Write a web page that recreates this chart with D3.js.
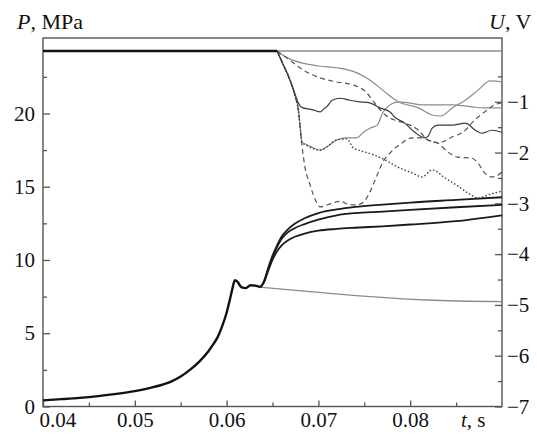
<!DOCTYPE html>
<html><head><meta charset="utf-8">
<script src="https://cdn.jsdelivr.net/npm/d3@7"></script>
<style>body{margin:0;background:#fff}</style>
</head><body>
<svg id="c" width="537" height="434"></svg>
<script>
// ---- axis ticks ----
const tMajor = [0.04, 0.05, 0.06, 0.07, 0.08];
const tMajorLabels = ["0.04", "0.05", "0.06", "0.07", "0.08"];
const tMinor = [0.045, 0.055, 0.065, 0.075, 0.085];
const pMajor = [0, 5, 10, 15, 20];
const pMinor = [2.5, 7.5, 12.5, 17.5, 22.5];
const uMajor = [-1, -2, -3, -4, -5, -6, -7];
const uMinor = [-0.5, -1.5, -2.5, -3.5, -4.5, -5.5, -6.5];

// ---- pressure P, MPa ----
const pMain = [[0.040,0.42],[0.042,0.50],[0.044,0.59],[0.046,0.71],[0.048,0.86],[0.050,1.05],[0.052,1.32],[0.054,1.72],[0.055,2.05],[0.056,2.50],[0.057,3.05],[0.058,3.75],[0.0585,4.20],[0.059,4.70],[0.0595,5.45],[0.060,6.40],[0.0603,7.15],[0.0606,7.95],[0.0609,8.62],[0.0612,8.50],[0.0616,8.15],[0.0621,8.08],[0.0626,8.28],[0.0631,8.25],[0.0637,8.14]];
const pFlat = [[0.0637,8.14],[0.0691,7.84],[0.0745,7.55],[0.0818,7.27],[0.0900,7.16]];
const pUpper = [[0.0637,8.14],[0.0641,8.6],[0.0645,9.4],[0.0650,10.3],[0.0655,11.0],[0.0660,11.6],[0.0667,12.1],[0.0675,12.5],[0.0685,12.85],[0.0700,13.2],[0.0720,13.45],[0.0740,13.62],[0.0770,13.78],[0.0800,13.92],[0.0850,14.1],[0.0900,14.28]];
const pMiddle = [[0.0637,8.14],[0.0641,8.55],[0.0645,9.3],[0.0650,10.2],[0.0655,10.9],[0.0660,11.45],[0.0667,11.9],[0.0675,12.2],[0.0685,12.45],[0.0700,12.75],[0.0720,13.05],[0.0740,13.2],[0.0770,13.3],[0.0800,13.42],[0.0850,13.6],[0.0900,13.76]];
const pLower = [[0.0637,8.14],[0.0641,8.5],[0.0645,9.2],[0.0650,10.0],[0.0655,10.6],[0.0660,11.0],[0.0667,11.35],[0.0675,11.6],[0.0685,11.8],[0.0700,12.0],[0.0720,12.12],[0.0740,12.2],[0.0770,12.3],[0.0800,12.42],[0.0850,12.65],[0.0900,13.05]];

// ---- voltage U, V ----
const uPre = [[0.040,0],[0.0655,0]];
const uZero = [[0.040,0],[0.090,0]];
const uA = [[0.0655,0],[0.0661,-0.08],[0.0672,-0.18],[0.0683,-0.24],[0.0702,-0.30],[0.0720,-0.33],[0.0742,-0.43],[0.0756,-0.57],[0.0770,-0.77],[0.0787,-1.00],[0.0809,-1.12],[0.0824,-1.26],[0.0833,-1.28],[0.0846,-1.12],[0.0860,-0.97],[0.0874,-0.77],[0.0887,-0.59],[0.0900,-0.61]];
const uB = [[0.0655,0],[0.0658,-0.04],[0.0666,-0.14],[0.0683,-0.37],[0.0702,-0.53],[0.0720,-0.61],[0.0738,-0.67],[0.0753,-0.83],[0.0759,-0.97],[0.0773,-1.26],[0.0783,-1.36],[0.0794,-1.42],[0.0809,-1.56],[0.0819,-1.75],[0.0830,-1.81],[0.0841,-1.99],[0.0852,-2.09],[0.0867,-2.11],[0.0874,-2.21],[0.0881,-2.40],[0.0889,-2.48],[0.0896,-2.44],[0.0900,-2.38]];
const uC = [[0.0655,0],[0.0661,-0.24],[0.0669,-0.57],[0.0675,-0.91],[0.0678,-1.10],[0.0680,-1.46],[0.0682,-1.79],[0.0688,-1.85],[0.0702,-1.95],[0.0709,-1.89],[0.0720,-1.75],[0.0731,-1.71],[0.0742,-1.71],[0.0749,-1.60],[0.0756,-1.52],[0.0764,-1.46],[0.0770,-1.22],[0.0780,-1.04],[0.0787,-1.00],[0.0816,-1.06],[0.0846,-1.06],[0.0867,-1.10],[0.0881,-1.12],[0.0900,-1.12]];
const uD = [[0.0655,0],[0.0661,-0.24],[0.0669,-0.57],[0.0675,-0.87],[0.0678,-1.02],[0.0683,-1.12],[0.0689,-1.14],[0.0694,-1.16],[0.0702,-1.20],[0.0706,-1.14],[0.0709,-1.10],[0.0715,-0.97],[0.0724,-0.93],[0.0734,-0.97],[0.0745,-1.00],[0.0756,-1.02],[0.0767,-1.12],[0.0778,-1.20],[0.0783,-1.30],[0.0794,-1.42],[0.0805,-1.60],[0.0816,-1.71],[0.0819,-1.69],[0.0824,-1.52],[0.0830,-1.46],[0.0846,-1.46],[0.0860,-1.42],[0.0871,-1.56],[0.0878,-1.62],[0.0889,-1.56],[0.0900,-1.60]];
const uE = [[0.0655,0],[0.0661,-0.24],[0.0669,-0.57],[0.0675,-0.91],[0.0678,-1.16],[0.0682,-1.85],[0.0685,-2.25],[0.0691,-2.64],[0.0698,-2.98],[0.0702,-3.07],[0.0707,-3.05],[0.0713,-3.01],[0.0724,-2.96],[0.0734,-3.03],[0.0742,-3.03],[0.0749,-2.98],[0.0756,-2.78],[0.0764,-2.44],[0.0770,-2.19],[0.0778,-2.01],[0.0791,-1.81],[0.0802,-1.71],[0.0813,-1.71],[0.0824,-1.79],[0.0830,-1.81],[0.0846,-1.69],[0.0860,-1.56],[0.0867,-1.42],[0.0874,-1.30],[0.0881,-1.20],[0.0892,-1.06],[0.0900,-1.02]];
const uF = [[0.0655,0],[0.0661,-0.24],[0.0669,-0.57],[0.0675,-0.91],[0.0678,-1.16],[0.0680,-1.48],[0.0682,-1.79],[0.0688,-1.87],[0.0702,-1.95],[0.0709,-1.89],[0.0720,-1.75],[0.0731,-1.73],[0.0738,-1.91],[0.0747,-1.97],[0.0758,-2.03],[0.0773,-2.15],[0.0787,-2.29],[0.0802,-2.40],[0.0813,-2.48],[0.0824,-2.34],[0.0838,-2.50],[0.0852,-2.66],[0.0865,-2.82],[0.0874,-2.90],[0.0887,-2.82],[0.0900,-2.76]];

// ---- layout ----
const L = 43, R = 502, T = 38, B = 406.5;
const FONT = '"Liberation Serif","Times New Roman",serif';
const FS = 21;

const svg = d3.select("#c");
const x = d3.scaleLinear().domain([0.04, 0.09]).range([L, R]);
const yP = d3.scaleLinear().domain([0, 25.15]).range([B, T]);
const yU = d3.scaleLinear().domain([-7, 0.256]).range([B, T]);

const lineP = d3.line().x(d => x(d[0])).y(d => yP(d[1])).curve(d3.curveMonotoneX);
const lineU = d3.line().x(d => x(d[0])).y(d => yU(d[1])).curve(d3.curveMonotoneX);

function styleAxis(g) {
  g.select(".domain").remove();
  g.selectAll(".tick line").attr("stroke", "#555").attr("stroke-width", 1.3);
  g.selectAll(".tick text").attr("font-family", FONT).attr("font-size", FS).attr("fill", "#111");
}

// minor ticks
svg.append("g").attr("transform", `translate(0,${B})`)
  .call(d3.axisBottom(x).tickValues(tMinor).tickSize(-4).tickFormat(""))
  .call(styleAxis);
svg.append("g").attr("transform", `translate(${L},0)`)
  .call(d3.axisLeft(yP).tickValues(pMinor).tickSize(-4).tickFormat(""))
  .call(styleAxis);
svg.append("g").attr("transform", `translate(${R},0)`)
  .call(d3.axisRight(yU).tickValues(uMinor).tickSize(-4).tickFormat(""))
  .call(styleAxis);

// major ticks
const gx = svg.append("g").attr("transform", `translate(0,${B})`)
  .call(d3.axisBottom(x).tickValues(tMajor).tickSize(-6).tickPadding(6)
    .tickFormat((d, i) => tMajorLabels[i]))
  .call(styleAxis);
gx.selectAll(".tick text").filter((d, i) => i === 0).attr("text-anchor", "start").attr("x", -4);

svg.append("g").attr("transform", `translate(${L},0)`)
  .call(d3.axisLeft(yP).tickValues(pMajor).tickSize(-7).tickPadding(8).tickFormat(d3.format("d")))
  .call(styleAxis);
svg.append("g").attr("transform", `translate(${R},0)`)
  .call(d3.axisRight(yU).tickValues(uMajor).tickSize(-7).tickPadding(5)
    .tickFormat(d => "\u2212" + Math.abs(d)))
  .call(styleAxis);

// frame
svg.append("rect").attr("x", L).attr("y", T).attr("width", R - L).attr("height", B - T)
  .attr("fill", "none").attr("stroke", "#555").attr("stroke-width", 1.4);

// U curves
const g = svg.append("g").attr("fill", "none").attr("stroke-linejoin", "round");
g.append("path").attr("d", lineU(uZero)).attr("stroke", "#8c8c8c").attr("stroke-width", 1.5);
g.append("path").attr("d", lineU(uA)).attr("stroke", "#8c8c8c").attr("stroke-width", 1.2);
g.append("path").attr("d", lineU(uC)).attr("stroke", "#8c8c8c").attr("stroke-width", 1.2);
g.append("path").attr("d", lineU(uB)).attr("stroke", "#555").attr("stroke-width", 1.2).attr("stroke-dasharray", "5,3.5");
g.append("path").attr("d", lineU(uE)).attr("stroke", "#555").attr("stroke-width", 1.2).attr("stroke-dasharray", "5,3.5");
g.append("path").attr("d", lineU(uF)).attr("stroke", "#444").attr("stroke-width", 1.4).attr("stroke-dasharray", "1.6,2");
g.append("path").attr("d", lineU(uD)).attr("stroke", "#3a3a3a").attr("stroke-width", 1.2);
g.append("path").attr("d", lineU(uPre)).attr("stroke", "#111").attr("stroke-width", 2.3);

// P curves
g.append("path").attr("d", lineP(pFlat)).attr("stroke", "#8c8c8c").attr("stroke-width", 1.3);
[pLower, pMiddle, pUpper].forEach(s =>
  g.append("path").attr("d", lineP(s)).attr("stroke", "#1a1a1a").attr("stroke-width", 1.8));
g.append("path").attr("d", lineP(pMain)).attr("stroke", "#111").attr("stroke-width", 2.4);

// axis titles
const tP = svg.append("text").attr("x", 17).attr("y", 29).attr("font-family", FONT).attr("font-size", FS + 1).attr("fill", "#111");
tP.append("tspan").attr("font-style", "italic").text("P");
tP.append("tspan").text(", MPa");
const tU = svg.append("text").attr("x", 489).attr("y", 29).attr("font-family", FONT).attr("font-size", FS + 1).attr("fill", "#111");
tU.append("tspan").attr("font-style", "italic").text("U");
tU.append("tspan").text(", V");
const tT = svg.append("text").attr("x", 461).attr("y", B + 6).attr("dy", "0.71em").attr("font-family", FONT).attr("font-size", FS).attr("fill", "#111");
tT.append("tspan").attr("font-style", "italic").text("t");
tT.append("tspan").text(", s");
</script>
</body></html>
